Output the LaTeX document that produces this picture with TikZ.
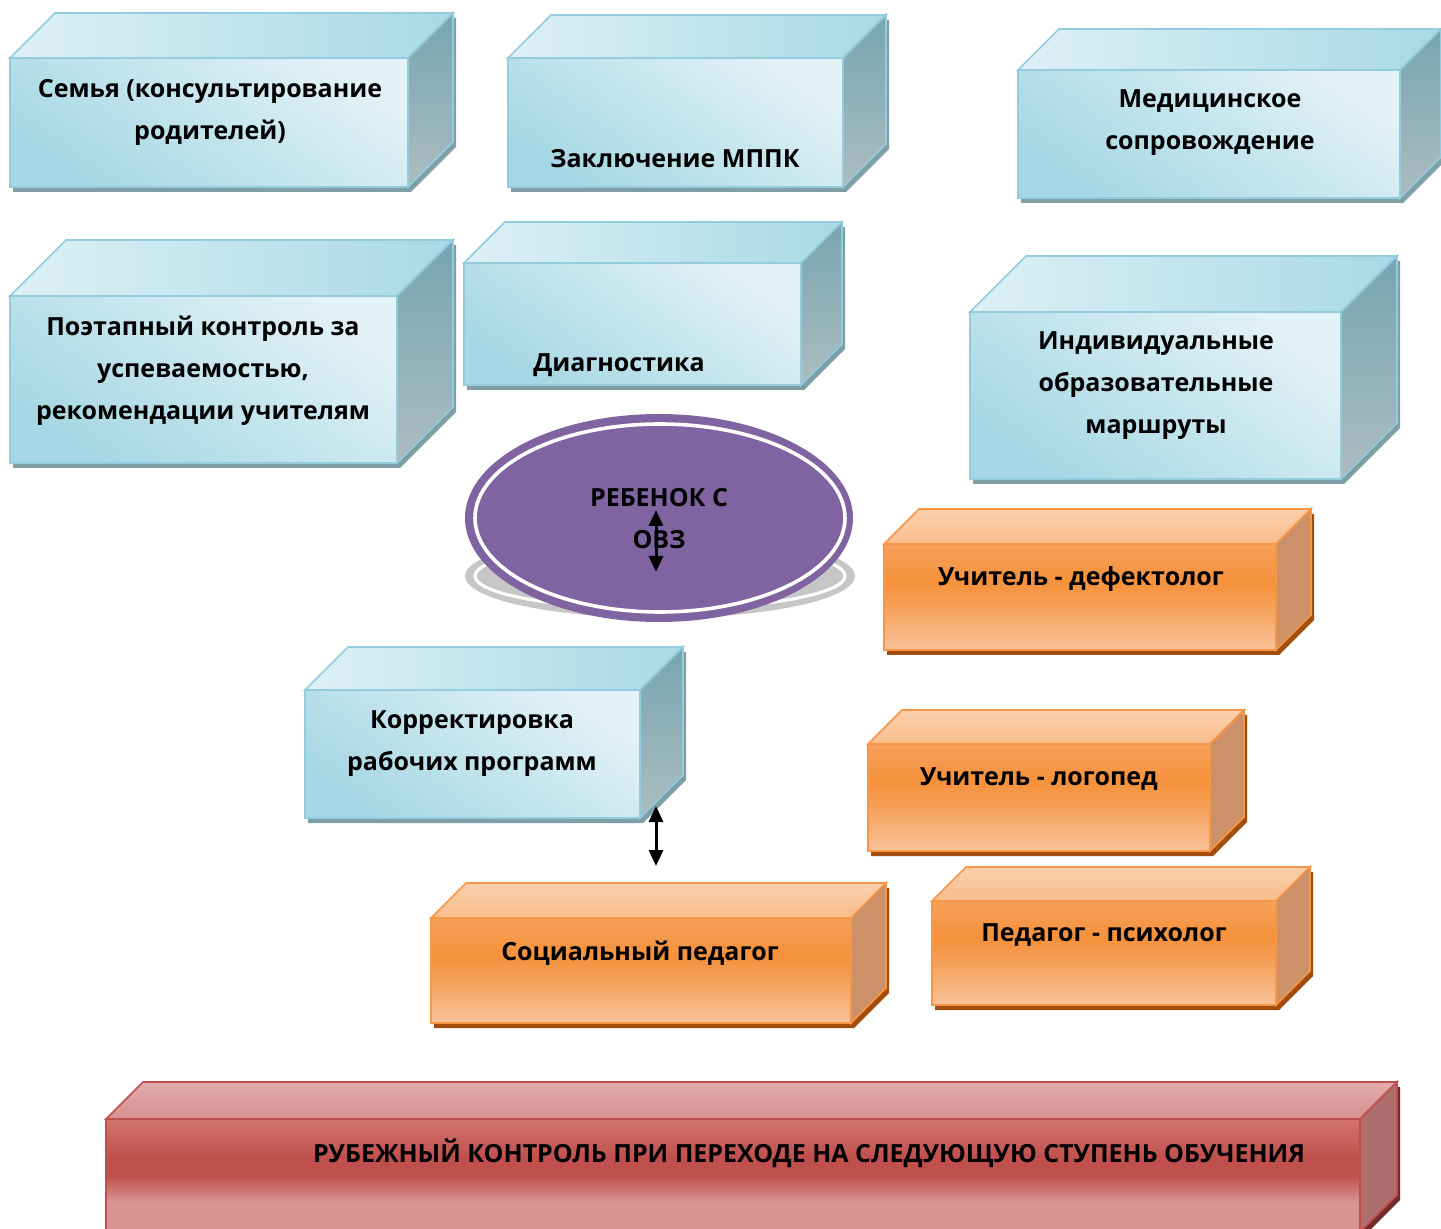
\documentclass[tikz,border=0pt]{standalone}
\usepackage{fontspec}
\setmainfont{Open Sans}
\usetikzlibrary{arrows.meta}
\definecolor{bborder}{HTML}{93CDDD}
\definecolor{bshadow}{HTML}{7F9EA5}
\definecolor{bfa}{HTML}{A6D7E4}
\definecolor{bfb}{HTML}{E2F2F6}
\definecolor{bta}{HTML}{DDF0F5}
\definecolor{btb}{HTML}{A9D9E5}
\definecolor{bsa}{HTML}{76A5B0}
\definecolor{bsb}{HTML}{ACBCC1}
\definecolor{oborder}{HTML}{F79646}
\definecolor{oshadow}{HTML}{A24D0E}
\definecolor{ofa}{HTML}{F5A15A}
\definecolor{ofb}{HTML}{F5913B}
\definecolor{ofc}{HTML}{F9C39B}
\definecolor{ota}{HTML}{FBD0AC}
\definecolor{otb}{HTML}{F8BC8B}
\definecolor{osa}{HTML}{CC9168}
\definecolor{osb}{HTML}{C0712F}
\definecolor{rborder}{HTML}{C0504D}
\definecolor{rshadow}{HTML}{722B2A}
\definecolor{rfa}{HTML}{D27472}
\definecolor{rfb}{HTML}{C0504D}
\definecolor{rfc}{HTML}{D99594}
\definecolor{rta}{HTML}{E3AAAA}
\definecolor{rtb}{HTML}{D69090}
\definecolor{rsa}{HTML}{AE6E6D}
\definecolor{rsb}{HTML}{963D3B}
\definecolor{purp}{HTML}{8064A2}
\pgfdeclareverticalshading{ofrontsh}{100bp}{color(0bp)=(ofc); color(25bp)=(ofc); color(45bp)=(ofa); color(57bp)=(ofb); color(75bp)=(ofa); color(100bp)=(ofa)}
\pgfdeclareverticalshading{rfrontsh}{100bp}{color(0bp)=(rfc); color(25bp)=(rfc); color(38bp)=(rfc); color(50bp)=(rfb); color(58bp)=(rfb); color(75bp)=(rfa); color(100bp)=(rfa)}
\tikzset{
  bluefront/.style={draw=bborder,line width=0.8pt,shading=axis,bottom color=bfa,top color=bfb,shading angle=-35},
  bluetop/.style={draw=bborder,line width=0.8pt,left color=bta,right color=btb},
  blueside/.style={draw=bborder,line width=0.8pt,top color=bsa,bottom color=bsb},
  blueshadow/.style={fill=bshadow},
  orangefront/.style={draw=oborder,line width=0.8pt,shading=ofrontsh},
  orangetop/.style={draw=oborder,line width=0.8pt,top color=ota,bottom color=otb},
  orangeside/.style={draw=oborder,line width=0.8pt,top color=osa,middle color=osb,bottom color=osa},
  orangeshadow/.style={fill=oshadow},
  redfront/.style={draw=rborder,line width=0.8pt,shading=rfrontsh},
  redtop/.style={draw=rborder,line width=0.8pt,top color=rta,bottom color=rtb},
  redside/.style={draw=rborder,line width=0.8pt,top color=rsa,middle color=rsb,bottom color=rsa},
  redshadow/.style={fill=rshadow},
  lbl/.style={font=\fontsize{12.5}{21}\selectfont\bfseries,align=center,inner sep=0pt,text=black},
  dblarrow/.style={line width=1.5pt,{Triangle[width=7pt,length=8pt]}-{Triangle[width=7pt,length=8pt]}}
}
% #1 x1, #2 y1, #3 x2, #4 y2, #5 depth, #6 family
\newcommand\cubebox[6]{%
  \fill[#6shadow,shift={(3,5)}] (#1,#4) -- (#1,#2) -- ({#1+#5},{#2-#5}) -- ({#3+#5},{#2-#5}) -- ({#3+#5},{#4-#5}) -- (#3,#4) -- cycle;
  \path[#6top] (#1,#2) -- ({#1+#5},{#2-#5}) -- ({#3+#5},{#2-#5}) -- (#3,#2) -- cycle;
  \path[#6side] (#3,#2) -- ({#3+#5},{#2-#5}) -- ({#3+#5},{#4-#5}) -- (#3,#4) -- cycle;
  \path[#6front] (#1,#2) rectangle (#3,#4);
}
\begin{document}
\begin{tikzpicture}[x=0.5pt,y=-0.5pt]
\useasboundingbox (0,0) rectangle (1441,1229);
\clip (0,0) rectangle (1441,1229);
\fill[white] (0,0) rectangle (1441,1229);

% blue boxes
\cubebox{10}{58}{408}{187}{45}{blue}
\node[lbl] (fam) at (210,112) {Семья (консультирование\\родителей)};
\cubebox{508}{58}{843}{187}{43}{blue}
\node[lbl] (mppk) at (675,159) {Заключение МППК};
\cubebox{1018}{70}{1400}{198}{41}{blue}
\node[lbl] (med) at (1210,123) {Медицинское\\сопровождение};
\cubebox{10}{296}{397}{463}{56}{blue}
\node[lbl] (ctrl) at (203,371) {Поэтапный контроль за\\успеваемостью,\\рекомендации учителям};
\cubebox{464}{263}{801}{385}{41}{blue}
\node[lbl] (diag) at (619,365) {Диагностика};
\cubebox{970}{312}{1341}{479}{56}{blue}
\node[lbl] (iom) at (1156,386) {Индивидуальные\\образовательные\\маршруты};
\cubebox{305}{690}{640}{818}{43}{blue}
\node[lbl] (korr) at (472,744) {Корректировка\\рабочих программ};

% orange boxes
\cubebox{884}{544}{1276}{650}{35}{orange}
\node[lbl] (def) at (1081,579) {Учитель - дефектолог};
\cubebox{868}{744}{1210}{851}{34}{orange}
\node[lbl] (log) at (1039,779) {Учитель - логопед};
\cubebox{431}{918}{851}{1023}{35}{orange}
\node[lbl] (soc) at (640,953) {Социальный педагог};
\cubebox{932}{901}{1276}{1005}{34}{orange}
\node[lbl] (psy) at (1104,935) {Педагог - психолог};

% red box
\cubebox{106}{1119}{1360}{1232}{37}{red}
\node[lbl] (rub) at (809,1153) {РУБЕЖНЫЙ КОНТРОЛЬ ПРИ ПЕРЕХОДЕ НА СЛЕДУЮЩУЮ СТУПЕНЬ ОБУЧЕНИЯ};

% central ellipse
\fill[gray!45] (660,576) ellipse [x radius=195, y radius=42];
\draw[white,line width=1.5pt] (660,576) ellipse [x radius=185, y radius=33];
\fill[purp] (659,518) ellipse [x radius=194, y radius=104];
\draw[white,line width=1.8pt] (660,518) ellipse [x radius=185, y radius=94];
\node[lbl] (child) at (659,519) {РЕБЕНОК С\\ОВЗ};

% arrows
\coordinate (a1s) at (656,510);
\coordinate (a1e) at (656,572);
\draw[dblarrow] (a1s) -- (a1e);
\coordinate (a2s) at (656,806);
\coordinate (a2e) at (656,866);
\draw[dblarrow] (a2s) -- (a2e);
\end{tikzpicture}
\end{document}
